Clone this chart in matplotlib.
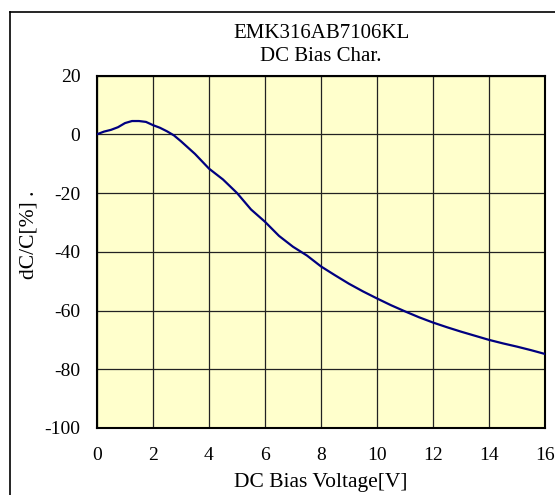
import matplotlib
matplotlib.use("Agg")
import matplotlib.pyplot as plt
from matplotlib.lines import Line2D

title_lines = ["EMK316AB7106KL", "DC Bias Char."]
x_label = "DC Bias Voltage[V]"
y_label = "dC/C[%] ."

voltage = [0, 0.25, 0.5, 0.75, 1.0, 1.25, 1.5, 1.75, 2.0, 2.25, 2.5, 2.75, 3.0,
           3.5, 4.0, 4.5, 5.0, 5.5, 6.0, 6.5, 7.0, 7.5, 8.0, 8.5, 9.0, 9.5, 10,
           10.5, 11, 11.5, 12, 12.5, 13, 13.5, 14, 14.5, 15, 15.5, 16]
dc_change = [0, 0.9, 1.5, 2.4, 3.8, 4.5, 4.5, 4.2, 3.1, 2.2, 1.0, -0.4, -2.4,
             -6.7, -11.7, -15.4, -20.0, -25.6, -29.8, -34.6, -38.3, -41.3, -45.0,
             -48.0, -50.9, -53.5, -55.9, -58.2, -60.3, -62.3, -64.1, -65.7, -67.2,
             -68.6, -70.0, -71.2, -72.3, -73.5, -74.8]

x_ticks = [0, 2, 4, 6, 8, 10, 12, 14, 16]
y_ticks = [-100, -80, -60, -40, -20, 0, 20]

plt.rcParams['font.family'] = ['Liberation Serif', 'DejaVu Serif']
plt.rcParams['axes.unicode_minus'] = False

W, H = 555, 495
fig = plt.figure(figsize=(W / 100, H / 100), dpi=100)
fig.patch.set_facecolor('white')

# outer frame (left and top edges visible)
fig.add_artist(Line2D([10 / W, 10 / W], [0, 1 - 12 / H], transform=fig.transFigure,
                      color='black', lw=1.2))
fig.add_artist(Line2D([10 / W, 1], [1 - 12 / H, 1 - 12 / H], transform=fig.transFigure,
                      color='black', lw=1.2))

ax_l, ax_r, ax_t, ax_b = 97, 545, 75.5, 428
ax = fig.add_axes([ax_l / W, 1 - ax_b / H, (ax_r - ax_l) / W, (ax_b - ax_t) / H])
ax.set_facecolor('#FFFFCC')
ax.plot(voltage, dc_change, color='#000080', lw=1.6, zorder=3)
ax.set_xlim(0, 16)
ax.set_ylim(-100, 20)
ax.set_xticks(x_ticks)
ax.set_yticks(y_ticks)
ax.grid(True, color='#222222', lw=0.9)
ax.set_axisbelow(True)
for s in ax.spines.values():
    s.set_linewidth(1.5)
    s.set_color('black')
ax.tick_params(axis='both', length=0, labelsize=14)
ax.tick_params(axis='x', pad=14)
ax.tick_params(axis='y', pad=12)

cx = (ax_l + ax_r) / 2 / W
fig.text(cx, 1 - 34 / H, title_lines[0], ha='center', va='center', fontsize=15)
fig.text(cx, 1 - 56 / H, title_lines[1], ha='center', va='center', fontsize=15)
fig.text(cx, 1 - 483 / H, x_label, ha='center', va='center', fontsize=15.5)
fig.text(29 / W, 1 - 235 / H, y_label, ha='center', va='center', fontsize=15.5,
         rotation=90)

fig.savefig('out.png', dpi=100)
